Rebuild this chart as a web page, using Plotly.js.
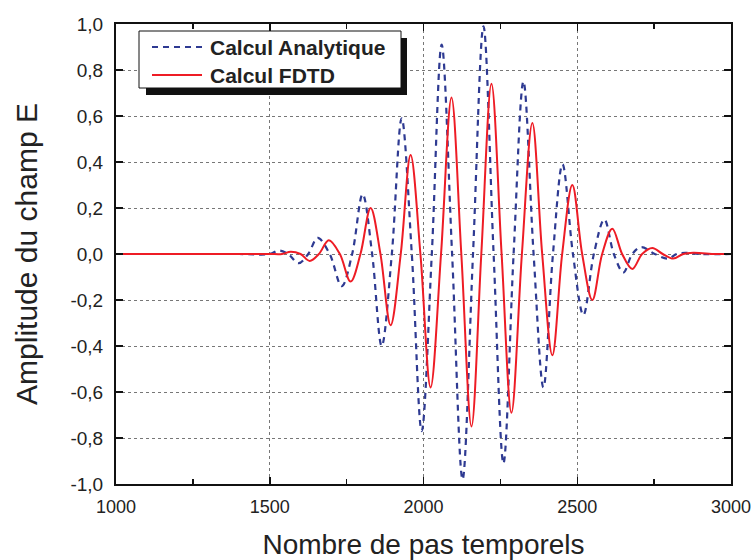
<!DOCTYPE html>
<html>
<head>
<meta charset="utf-8">
<script src="https://cdn.plot.ly/plotly-3.0.1.min.js"></script>
<style>html,body{margin:0;padding:0;background:#fff;}#chart{width:752px;height:560px;}</style>
</head>
<body>
<div id="chart"></div>
<script>
// Time steps and amplitudes
var analyticX = [1000, 1200, 1400, 1500, 1529, 1560, 1594, 1625, 1656, 1695, 1734, 1768, 1802, 1833, 1864, 1897, 1929, 1962, 1994, 2027, 2059, 2093, 2127, 2161, 2195, 2228, 2260, 2293, 2325, 2358, 2390, 2421, 2452, 2486, 2520, 2554, 2588, 2619, 2650, 2679, 2708, 2752, 2796, 2823, 2851, 2900, 3000];
var analyticY = [0, 0, 0, 0, 0.015, 0, -0.04, 0, 0.07, 0, -0.14, 0, 0.26, 0, -0.40, 0, 0.59, 0, -0.77, 0, 0.91, 0, -0.98, 0, 0.99, 0, -0.91, 0, 0.75, 0, -0.58, 0, 0.39, 0, -0.265, 0, 0.15, 0, -0.08, 0, 0.03, 0, -0.02, 0, 0.005, 0, 0];

var fdtdX = [1000, 1200, 1400, 1500, 1540, 1568, 1600, 1630, 1660, 1692, 1728, 1763, 1795, 1828, 1860, 1893, 1926, 1958, 1990, 2023, 2057, 2091, 2123, 2156, 2188, 2221, 2254, 2286, 2320, 2354, 2386, 2419, 2451, 2484, 2516, 2549, 2581, 2614, 2646, 2679, 2711, 2744, 2778, 2812, 2845, 2877, 2950, 3000];
var fdtdY = [0, 0, 0, 0, 0, 0.01, 0, -0.03, 0, 0.06, 0, -0.12, 0, 0.20, 0, -0.31, 0, 0.43, 0, -0.58, 0, 0.68, 0, -0.75, 0, 0.74, 0, -0.69, 0, 0.57, 0, -0.44, 0, 0.30, 0, -0.20, 0, 0.11, 0, -0.065, 0, 0.026, 0, -0.02, 0, 0.005, 0, 0];

var seriesNames = ["Calcul Analytique", "Calcul FDTD"];
var yTickVals = [-1.0, -0.8, -0.6, -0.4, -0.2, 0.0, 0.2, 0.4, 0.6, 0.8, 1.0];
var yTickText = ["-1,0", "-0,8", "-0,6", "-0,4", "-0,2", "0,0", "0,2", "0,4", "0,6", "0,8", "1,0"];
var xTickVals = [1000, 1500, 2000, 2500, 3000];
var xTickText = ["1000", "1500", "2000", "2500", "3000"];

var FONT = "Liberation Sans, Arial, sans-serif";
var BLUE = "#2e3a92";
var RED = "#ee1c25";

var traces = [
  {x: analyticX, y: analyticY, type: "scatter", mode: "lines", name: seriesNames[0],
   line: {color: BLUE, width: 2.2, dash: "6px,5px", shape: "spline", smoothing: 1}, showlegend: false, cliponaxis: true},
  {x: fdtdX, y: fdtdY, type: "scatter", mode: "lines", name: seriesNames[1],
   line: {color: RED, width: 2, shape: "spline", smoothing: 1}, showlegend: false, cliponaxis: true}
];

var L = 116, R = 21, T = 24, B = 76;
var PW = 752 - L - R, PH = 560 - T - B;
function px(v){ return (v - L) / PW; }
function py(v){ return (560 - B - v) / PH; }

var layout = {
  width: 752, height: 560,
  margin: {l: L, r: R, t: T, b: B},
  paper_bgcolor: "#fff", plot_bgcolor: "#fff",
  font: {family: FONT, color: "#222"},
  showlegend: false,
  xaxis: {
    range: [1000, 3000], tickmode: "array", tickvals: xTickVals, ticktext: xTickText,
    ticks: "inside", ticklen: 7, tickwidth: 1.5, tickcolor: "#111",
    minor: {tick0: 1000, dtick: 250, ticks: "inside", ticklen: 5, tickwidth: 1.5, tickcolor: "#111", showgrid: false},
    showline: true, linecolor: "#111", linewidth: 2, mirror: "ticks",
    showgrid: true, gridcolor: "#777", griddash: "dot", gridwidth: 1,
    zeroline: false, automargin: false,
    ticklabelstandoff: 5, ticklabeloverflow: "allow",
    tickfont: {family: FONT, size: 18, color: "#222"},
    title: {text: "Nombre de pas temporels", font: {family: FONT, size: 28, color: "#222"}, standoff: 22}
  },
  yaxis: {
    range: [-1.0, 1.0], tickmode: "array", tickvals: yTickVals, ticktext: yTickText,
    ticks: "inside", ticklen: 7, tickwidth: 1.5, tickcolor: "#111",
    showline: true, linecolor: "#111", linewidth: 2, mirror: "ticks",
    showgrid: true, gridcolor: "#777", griddash: "dot", gridwidth: 1,
    zeroline: false, automargin: false,
    ticklabelstandoff: 7, ticklabeloverflow: "allow",
    tickfont: {family: FONT, size: 19, color: "#222"},
    title: {text: "Amplitude du champ E", font: {family: FONT, size: 30, color: "#222"}, standoff: 24}
  },
  shapes: [
    {type: "rect", xref: "paper", yref: "paper", x0: px(146), x1: px(407), y0: py(95), y1: py(38),
     fillcolor: "#111", line: {width: 0}, layer: "above"},
    {type: "rect", xref: "paper", yref: "paper", x0: px(139), x1: px(401), y0: py(88), y1: py(31),
     fillcolor: "#fff", line: {color: "#111", width: 1}, layer: "above"},
    {type: "line", xref: "paper", yref: "paper", x0: px(152), x1: px(202), y0: py(47), y1: py(47),
     line: {color: BLUE, width: 2.2, dash: "6px,5px"}, layer: "above"},
    {type: "line", xref: "paper", yref: "paper", x0: px(152), x1: px(202), y0: py(75), y1: py(75),
     line: {color: RED, width: 2}, layer: "above"}
  ],
  annotations: [
    {xref: "paper", yref: "paper", x: px(208), y: py(47), xanchor: "left", yanchor: "middle", showarrow: false,
     text: "<b>" + seriesNames[0] + "</b>", font: {family: FONT, size: 21, color: "#222"}},
    {xref: "paper", yref: "paper", x: px(208), y: py(75), xanchor: "left", yanchor: "middle", showarrow: false,
     text: "<b>" + seriesNames[1] + "</b>", font: {family: FONT, size: 21, color: "#222"}}
  ]
};

Plotly.newPlot("chart", traces, layout, {displayModeBar: false, staticPlot: true});
</script>
</body>
</html>
